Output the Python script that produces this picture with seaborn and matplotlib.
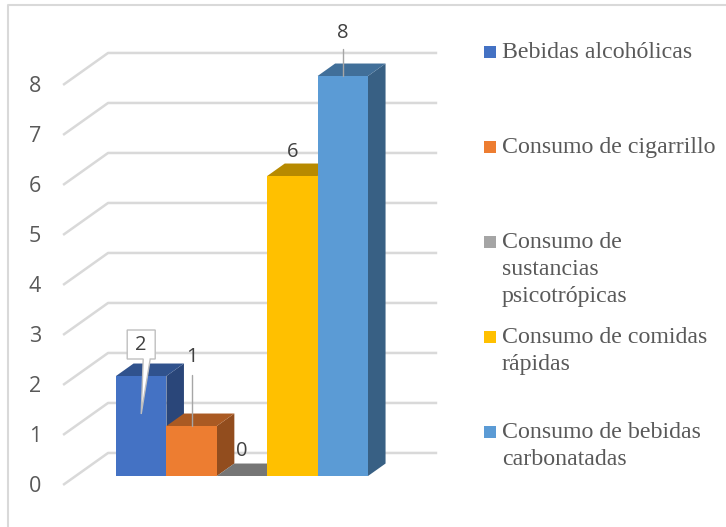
import numpy as np
import pandas as pd
import seaborn as sns
import matplotlib.pyplot as plt
from matplotlib.patches import Polygon, Rectangle
from matplotlib.lines import Line2D

# ---- data ----
categories = [
    "Bebidas alcohólicas",
    "Consumo de cigarrillo",
    "Consumo de sustancias psicotrópicas",
    "Consumo de comidas rápidas",
    "Consumo de bebidas carbonatadas",
]
legend_lines = [
    ["Bebidas alcohólicas"],
    ["Consumo de cigarrillo"],
    ["Consumo de", "sustancias", "psicotrópicas"],
    ["Consumo de comidas", "rápidas"],
    ["Consumo de bebidas", "carbonatadas"],
]
values = [2, 1, 0, 6, 8]
colors = ["#4472C4", "#ED7D31", "#A5A5A5", "#FFC000", "#5B9BD5"]
y_ticks = list(range(0, 9))

sns.set_theme(style="white")
plt.rcParams["font.family"] = ["Open Sans", "DejaVu Sans"]

W, H = 726, 527
fig = plt.figure(figsize=(W / 100, H / 100), dpi=100)


def fig_box(l, t, r, b):
    return [l / W, 1 - b / H, (r - l) / W, (b - t) / H]


ax = fig.add_axes(fig_box(20, 15, 450, 510))

df = pd.DataFrame({"cat": categories, "val": values})
sns.barplot(data=df, x="cat", y="val", hue="cat", palette=colors,
            width=1.0, saturation=1, legend=False, ax=ax, linewidth=0)

# pixel scale of the plot: one category is 50.4 px wide, one unit is 50 px tall
PX_X, PX_V = 50.4, 50.0
ax.set_xlim(-0.5 + (20 - 116) / PX_X, -0.5 + (450 - 116) / PX_X)
ax.set_ylim((476 - 510) / PX_V, (476 - 15) / PX_V)
ax.set_axis_off()

# oblique projection for the depth axis
DX, DY = 45 / PX_X, 32 / PX_V
D_FRONT, D_BACK, D_WALL = -0.28, 0.39, 0.72


def proj(x, v, d):
    return (x + d * DX, v + d * DY)


def shade(hex_color, f):
    r, g, b = [int(hex_color[i:i + 2], 16) for i in (1, 3, 5)]
    return "#%02x%02x%02x" % (int(r * f), int(g * f), int(b * f))


# back wall grid + left side diagonals
grid_c = "#D9D9D9"
x_left, x_right = -1.30, 5.23
for v in y_ticks:
    p0 = proj(x_left, v, D_FRONT)
    p1 = proj(x_left, v, D_WALL)
    p2 = proj(x_right, v, D_WALL)
    ax.plot([p0[0], p1[0], p2[0]], [p0[1], p1[1], p2[1]], color=grid_c,
            lw=1.8, solid_capstyle="butt", zorder=1)
    tx, ty = proj(-2.107 - D_FRONT * DX, v, D_FRONT)
    ax.text(tx, ty - 0.03, str(v), ha="center", va="center", fontsize=15.5,
            color="#595959", clip_on=False)

# extrude every bar: side face, top face, then front face
for i, (p, col) in enumerate(zip(ax.patches, colors)):
    x0, w, h = p.get_x(), p.get_width(), p.get_height()
    side = [(x0 + w, 0), (x0 + w, h), proj(x0 + w, h, D_BACK), proj(x0 + w, 0, D_BACK)]
    top = [(x0, h), (x0 + w, h), proj(x0 + w, h, D_BACK), proj(x0, h, D_BACK)]
    ax.add_patch(Polygon(side, closed=True, facecolor=shade(col, 0.62),
                         edgecolor="none", zorder=3 + 3 * i))
    ax.add_patch(Polygon(top, closed=True, facecolor=shade(col, 0.72),
                         edgecolor="none", zorder=4 + 3 * i))
    p.set_zorder(5 + 3 * i)

# data labels
lab_c = "#404040"
lead_c = "#A6A6A6"
label_offsets = [None, 1.38, 0.50, 0.48, 0.86]
for i, (p, v) in enumerate(zip(ax.patches, values)):
    cx = p.get_x() + p.get_width() / 2
    if i == 0:
        # callout box with a pointer down into the bar
        hw = 14 / PX_X
        box = [(cx - hw, 2.92), (cx + hw, 2.92), (cx + hw, 2.34),
               (cx + 9 / PX_X, 2.34), (cx, 1.24), (cx + 2 / PX_X, 2.34),
               (cx - hw, 2.34)]
        ax.add_patch(Polygon(box, closed=True, facecolor="white",
                             edgecolor="#BFBFBF", lw=1.0, zorder=40))
        ax.text(cx, 2.63, str(v), ha="center", va="center", fontsize=14.5,
                color=lab_c, zorder=41)
        continue
    ax.text(cx, v + label_offsets[i], str(v), ha="center", va="center",
            fontsize=14.5, color=lab_c, zorder=41)
    if i == 1:
        ax.plot([cx, cx], [2.02, v], color=lead_c, lw=1.0, zorder=40)
    if i == 4:
        ax.plot([cx, cx], [8.54, v], color=lead_c, lw=1.0, zorder=40)

# legend on the right
for i, (lines, col) in enumerate(zip(legend_lines, colors)):
    base = 57.7 + 95 * i
    fig.add_artist(Rectangle((484 / W, 1 - base / H), 12 / W, 11.5 / H,
                             transform=fig.transFigure, facecolor=col,
                             edgecolor="none"))
    for j, line in enumerate(lines):
        fig.text(502 / W, 1 - (base + 27 * j) / H, line, va="baseline",
                 ha="left", fontsize=17.2, color="#595959",
                 family=["Liberation Serif", "DejaVu Serif"])

# chart frame
fig.add_artist(Line2D([8 / W, 8 / W, 1.0], [0.0, 1 - 5 / H, 1 - 5 / H],
                      transform=fig.transFigure, color="#D9D9D9", lw=1.5))

fig.savefig("out.png", dpi=100)
